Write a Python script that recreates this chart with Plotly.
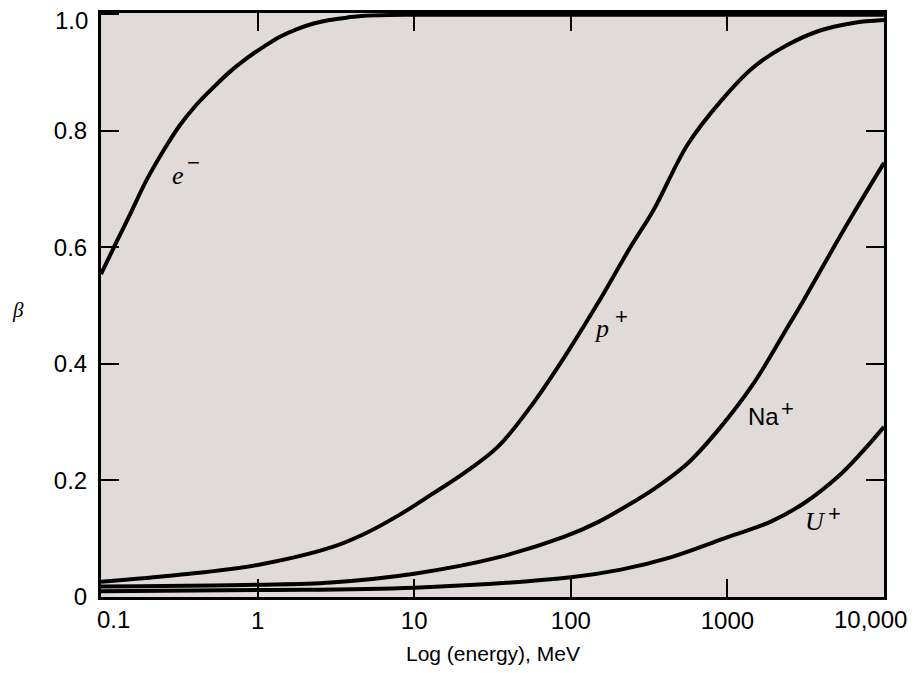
import plotly.graph_objects as go

# Kinetic energy (MeV) and beta values
e_energy = [0.1, 0.126, 0.153, 0.196, 0.252, 0.318, 0.408, 0.525, 0.664, 0.851,
            1.09, 1.38, 1.77, 2.28, 2.88, 3.7, 4.6, 10, 100, 1000, 10000]
e_beta = [0.554, 0.61, 0.656, 0.716, 0.767, 0.809, 0.845, 0.875, 0.901, 0.924,
          0.944, 0.961, 0.974, 0.984, 0.99, 0.994, 0.997, 0.999, 0.999, 0.999, 0.999]

p_energy = [0.1, 0.316, 1, 2.95, 4.79, 7.94, 12.9, 20.9, 34.3, 55.6, 90.2, 148,
            240, 339, 556, 902, 1466, 2410, 3908, 6353, 10000]
p_beta = [0.026, 0.038, 0.055, 0.085, 0.108, 0.14, 0.176, 0.213, 0.258, 0.327,
          0.41, 0.503, 0.6, 0.665, 0.776, 0.85, 0.909, 0.947, 0.972, 0.985, 0.99]

na_energy = [0.1, 1, 2.95, 10, 34.3, 90.2, 148, 240, 339, 556, 902, 1466, 2410,
             3048, 5012, 6310, 10000]
na_beta = [0.018, 0.021, 0.025, 0.04, 0.068, 0.103, 0.128, 0.16, 0.185, 0.229,
           0.291, 0.366, 0.462, 0.508, 0.61, 0.656, 0.745]

u_energy = [0.1, 1, 10, 100, 209, 434, 944, 1879, 3048, 5012, 7031, 10000]
u_beta = [0.01, 0.012, 0.016, 0.034, 0.047, 0.068, 0.1, 0.129, 0.16, 0.205,
          0.245, 0.292]

x_tickvals = [0.1, 1, 10, 100, 1000, 10000]
x_ticktext = ["0.1", "1", "10", "100", "1000", "10,000"]
y_tickvals = [0, 0.2, 0.4, 0.6, 0.8, 1.0]
y_ticktext = ["0", "0.2", "0.4", "0.6", "0.8", "1.0"]

curve_labels = [  # (text, log10 energy, beta, font kind)
    ("e", -0.51, 0.724, "serif-i"), ("p", 2.197, 0.461, "serif-i"),
    ("Na", 3.231, 0.31, "sans"), ("U", 3.563, 0.13, "serif-i"),
]
charge_labels = [  # (sign, log10 energy, beta)
    ("−", -0.41, 0.745), ("+", 2.324, 0.481), ("+", 3.384, 0.324), ("+", 3.685, 0.144),
]

SANS = "Liberation Sans, Arial, sans-serif"
SERIF = "Liberation Serif, Times New Roman, serif"

PLOT_L, PLOT_R, PLOT_T, PLOT_B = 101, 884, 13, 597   # page pixels (body margin 8px)
W, H = 916, 673
PW, PH = PLOT_R - PLOT_L, PLOT_B - PLOT_T

fig = go.Figure()
for xs, ys in [(e_energy, e_beta), (p_energy, p_beta), (na_energy, na_beta), (u_energy, u_beta)]:
    fig.add_trace(go.Scatter(x=xs, y=ys, mode="lines",
                             line=dict(color="black", width=4, shape="spline", smoothing=1),
                             showlegend=False, hoverinfo="skip"))

for text, lx, by, kind in curve_labels:
    if kind == "sans":
        fnt = dict(family=SANS, size=24, color="black")
        txt = text
    else:
        fnt = dict(family=SERIF, size=26, color="black")
        txt = "<i>" + text + "</i>"
    fig.add_annotation(x=lx, y=by, xref="x", yref="y", text=txt, showarrow=False, font=fnt)
for sign, lx, by in charge_labels:
    fig.add_annotation(x=lx, y=by, xref="x", yref="y", text=sign, showarrow=False,
                       font=dict(family=SANS, size=22, color="black"))

# y-axis title (horizontal beta)
fig.add_annotation(x=(18 - PLOT_L) / PW, y=(PLOT_B - 310) / PH, xref="paper", yref="paper",
                   text="<i>β</i>", showarrow=False, xanchor="center", yanchor="middle",
                   font=dict(family=SERIF, size=21, color="black"))
# x-axis title
fig.add_annotation(x=0.5, y=0, xref="paper", yref="paper", text="Log (energy), MeV",
                   showarrow=False, xanchor="center", yanchor="middle", yshift=-56,
                   font=dict(family=SANS, size=21, color="black"))

tick_font = dict(family=SANS, size=24, color="black")
# edge tick labels, drawn as annotations so they sit inside as in the original
fig.add_annotation(x=-1, y=0, xref="x", yref="paper", text=x_ticktext[0], showarrow=False,
                   xanchor="center", yanchor="middle", xshift=12, yshift=-22, font=tick_font)
fig.add_annotation(x=4, y=0, xref="x", yref="paper", text=x_ticktext[-1], showarrow=False,
                   xanchor="center", yanchor="middle", xshift=-14, yshift=-22, font=tick_font)
fig.add_annotation(x=0, y=1, xref="paper", yref="y", text=y_ticktext[-1], showarrow=False,
                   xanchor="right", yanchor="middle", xshift=-11, yshift=-6, font=tick_font)

axis_common = dict(showline=True, linecolor="black", linewidth=3, mirror="ticks",
                   ticks="inside", ticklen=18, tickwidth=1.5, tickcolor="black",
                   showgrid=False, zeroline=False, automargin=False, tickfont=tick_font)

fig.update_xaxes(type="log", range=[-1, 4], tickvals=x_tickvals,
                 ticktext=[""] + x_ticktext[1:-1] + [""], **axis_common)
fig.update_yaxes(range=[0, 1.002], tickvals=y_tickvals,
                 ticktext=y_ticktext[:-1] + [""], ticklabelstandoff=6, **axis_common)

fig.update_layout(width=W, height=H,
                  margin=dict(l=PLOT_L - 8, r=W + 8 - PLOT_R, t=PLOT_T - 8, b=H + 8 - PLOT_B),
                  plot_bgcolor="#e0dbd9", paper_bgcolor="white")

fig.write_html("out.html")
